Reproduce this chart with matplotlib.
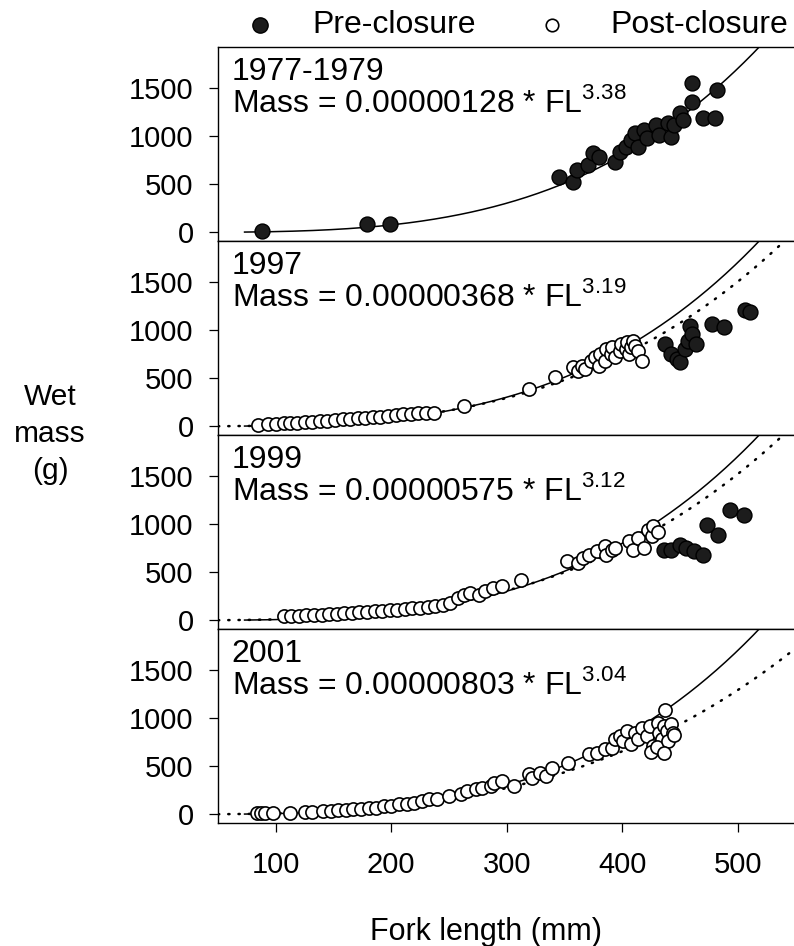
import matplotlib.pyplot as plt
from matplotlib.lines import Line2D
import numpy as np

plt.rcParams['font.family'] = ['Liberation Sans', 'DejaVu Sans']
plt.rcParams['mathtext.fontset'] = 'custom'
plt.rcParams['mathtext.rm'] = 'Liberation Sans'

# Length-mass fits (coefficient, exponent) for each period
panel_labels = ['1977-1979', '1997', '1999', '2001']
fit_a = [0.00000128, 0.00000368, 0.00000575, 0.00000803]
fit_b = [3.38, 3.19, 3.12, 3.04]
fit_a_text = ['0.00000128', '0.00000368', '0.00000575', '0.00000803']

# 1977-1979, all pre-closure
fl_1977_pre = [88, 179, 199, 345, 357, 361, 370, 375, 380, 394, 398, 403, 408, 411, 414,
               419, 421, 429, 432, 440, 442, 445, 450, 453, 460, 460, 470, 480, 482]
mass_1977_pre = [10, 90, 90, 576, 524, 645, 697, 818, 783, 731, 835, 887, 956, 1025, 887,
                 1059, 973, 1111, 1007, 1128, 990, 1111, 1232, 1163, 1352, 1542, 1180, 1180, 1473]

# 1997
fl_1997_post = [85, 93, 100, 107, 112, 118, 125, 131, 138, 144, 151, 158, 164, 171, 177, 184,
                190, 197, 204, 210, 217, 223, 230, 237, 263, 319, 342, 357, 362, 365, 368,
                373, 376, 380, 381, 385, 386, 390, 391, 394, 398, 399, 403, 404, 406, 408,
                409, 411, 414, 417]
mass_1997_post = [17, 24, 24, 31, 34, 38, 41, 48, 52, 59, 66, 76, 76, 83, 86, 93,
                  100, 110, 117, 128, 128, 134, 138, 141, 214, 386, 507, 610, 576, 628, 593,
                  679, 714, 628, 748, 679, 800, 748, 817, 714, 783, 852, 800, 869, 748, 817,
                  886, 834, 783, 679]
fl_1997_pre = [437, 442, 447, 450, 454, 457, 459, 460, 464, 478, 488, 506, 511]
mass_1997_pre = [852, 748, 697, 662, 800, 886, 1041, 955, 852, 1059, 1024, 1200, 1185]

# 1999
fl_1999_post = [107, 113, 120, 126, 133, 140, 146, 153, 159, 166, 172, 179, 186, 192, 199,
                205, 212, 218, 225, 232, 238, 245, 251, 258, 263, 268, 276, 281, 288, 296,
                312, 352, 362, 366, 371, 378, 385, 386, 391, 394, 406, 409, 414, 419, 422,
                426, 427, 431]
mass_1999_post = [41, 41, 48, 52, 55, 59, 66, 69, 72, 76, 83, 86, 93, 100, 103,
                  110, 117, 124, 131, 138, 152, 162, 179, 231, 266, 283, 266, 300, 334, 352,
                  421, 610, 593, 645, 679, 714, 765, 679, 731, 748, 817, 731, 852, 748, 938,
                  869, 972, 920]
fl_1999_pre = [436, 442, 450, 455, 462, 470, 473, 483, 493, 505]
mass_1999_pre = [731, 731, 783, 748, 714, 679, 989, 886, 1145, 1093]

# 2001, all post-closure
fl_2001_post = [84, 87, 91, 98, 112, 125, 131, 141, 148, 154, 161, 167, 174, 181, 187, 194,
                200, 207, 214, 220, 227, 233, 240, 250, 260, 266, 273, 279, 286, 289, 296,
                306, 319, 322, 329, 334, 339, 353, 371, 378, 385, 391, 394, 398, 401, 404,
                408, 411, 414, 417, 421, 424, 427, 431, 432, 434, 436, 437, 439, 442, 444,
                425, 430, 440, 445, 436]
mass_2001_post = [10, 10, 12, 15, 18, 22, 25, 30, 34, 40, 45, 50, 55, 62, 70, 86,
                  86, 103, 110, 121, 138, 155, 162, 190, 207, 241, 259, 276, 293, 328, 345,
                  293, 414, 379, 431, 397, 483, 534, 621, 638, 672, 690, 776, 810, 759, 862,
                  724, 845, 776, 896, 810, 914, 707, 948, 845, 776, 914, 1080, 862, 931, 845,
                  650, 700, 760, 820, 640]

panel_pre = [(fl_1977_pre, mass_1977_pre), (fl_1997_pre, mass_1997_pre),
             (fl_1999_pre, mass_1999_pre), (None, None)]
panel_post = [(None, None), (fl_1997_post, mass_1997_post),
              (fl_1999_post, mass_1999_post), (fl_2001_post, mass_2001_post)]

x_ticks = [100, 200, 300, 400, 500]
y_ticks = [0, 500, 1000, 1500]

W, H = 794, 946
fig = plt.figure(figsize=(W / 100, H / 100), dpi=100)


def add_px_axes(left, top, width, height):
    # axes placed in pixel units measured from the top left corner
    return fig.add_axes([left / W, 1 - (top + height) / H, width / W, height / H])


def fx(px):
    return px / W


def fy(px):
    return 1 - px / H


for i in range(4):
    ax = add_px_axes(218, 47 + 194 * i, 577.5, 194)

    # solid line: 1977-1979 relationship, dotted: relationship of the panel's year
    fl_solid = np.linspace(73, 550, 300)
    ax.plot(fl_solid, fit_a[0] * fl_solid ** fit_b[0], color='black', lw=1.1, zorder=2)
    if i > 0:
        fl_dot = np.linspace(50, 550, 300)
        ax.plot(fl_dot, fit_a[i] * fl_dot ** fit_b[i], color='black', lw=1.8,
                linestyle=(0, (0.5, 3.6)), dash_capstyle='round', zorder=2)

    fl_post, mass_post = panel_post[i]
    if fl_post is not None:
        ax.scatter(fl_post, mass_post, s=90, facecolor='white', edgecolor='black',
                   linewidth=1.2, zorder=3)
    fl_pre, mass_pre = panel_pre[i]
    if fl_pre is not None:
        ax.scatter(fl_pre, mass_pre, s=115, facecolor='#1c1c1c', edgecolor='black',
                   linewidth=1.0, zorder=4)

    ax.text(0.024, 0.83, panel_labels[i], transform=ax.transAxes, fontsize=23,
            ha='left', va='baseline')
    ax.text(0.024, 0.665, 'Mass = ' + fit_a_text[i] + r' * FL$^{\mathregular{%.2f}}$' % fit_b[i],
            transform=ax.transAxes, fontsize=23, ha='left', va='baseline')

    ax.set_xlim(50, 550)
    ax.set_ylim(-90, 1920)
    ax.set_xticks(x_ticks)
    ax.set_yticks(y_ticks)
    ax.tick_params(axis='both', direction='out', length=6.5, width=0.9, labelsize=21)
    ax.tick_params(axis='y', pad=11)
    ax.tick_params(axis='x', pad=14)
    if i < 3:
        ax.tick_params(axis='x', labelbottom=False)
    for sp in ax.spines.values():
        sp.set_linewidth(1.0)

# legend across the top
fig.add_artist(Line2D([fx(260)], [fy(25)], transform=fig.transFigure, marker='o', ls='',
                      markerfacecolor='#1c1c1c', markeredgecolor='black', markersize=11))
fig.text(fx(312), fy(25), 'Pre-closure', ha='left', va='center', fontsize=23)
fig.add_artist(Line2D([fx(552)], [fy(25)], transform=fig.transFigure, marker='o', ls='',
                      markerfacecolor='white', markeredgecolor='black', markeredgewidth=1.2,
                      markersize=9))
fig.text(fx(610), fy(25), 'Post-closure', ha='left', va='center', fontsize=23)

fig.text(fx(50), fy(434), 'Wet\nmass\n(g)', ha='center', va='center', fontsize=21.5,
         linespacing=1.4)
fig.text(fx(486), fy(940), 'Fork length (mm)', ha='center', va='baseline', fontsize=22)

plt.savefig('out.png', dpi=100, facecolor='white')
plt.close()
